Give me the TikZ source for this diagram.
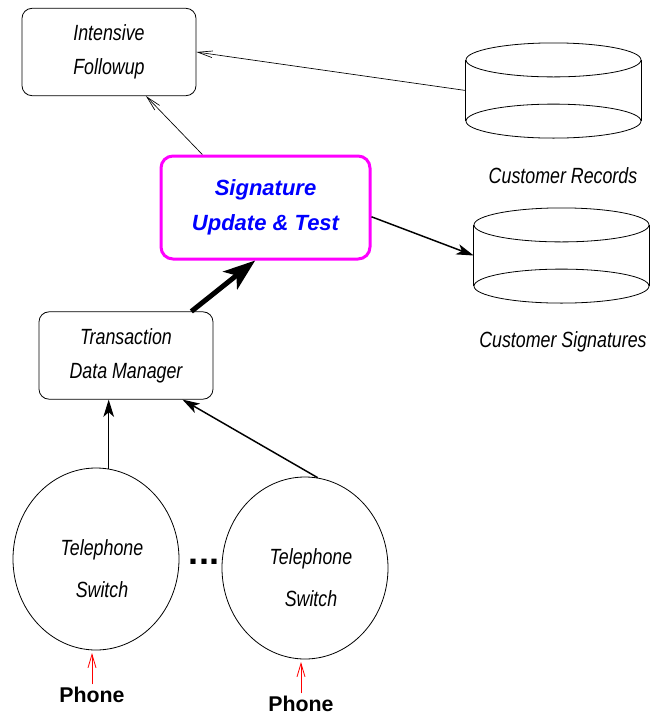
\documentclass[tikz,border=0pt]{standalone}
\usepackage{fontspec}
\setmainfont{Liberation Sans}
\newfontfamily\narrowsf[FakeStretch=0.81]{Liberation Sans}
\usetikzlibrary{arrows.meta,calc,positioning,shapes.geometric}
\definecolor{sigpink}{RGB}{255,0,255}
\definecolor{sigblue}{RGB}{0,0,255}

\begin{document}
\begin{tikzpicture}[x=0.75pt,y=-0.75pt,
  procbox/.style={draw, rounded corners=7.5pt, line width=0.6pt, minimum width=130.5pt, minimum height=65.5pt, align=center, inner sep=0pt, font=\narrowsf\itshape\fontsize{16.5}{25.5}\selectfont},
  sigbox/.style={draw=sigpink, line width=2.25pt, rounded corners=9pt, minimum width=156.75pt, minimum height=77.25pt, align=center, inner sep=0pt, text=sigblue, font=\bfseries\itshape\fontsize{16.5}{26}\selectfont},
  switch/.style={draw, ellipse, line width=0.6pt, minimum width=124.5pt, minimum height=136.5pt, inner sep=0pt},
  swtext/.style={align=center, inner sep=0pt, font=\narrowsf\itshape\fontsize{16.5}{31.5}\selectfont},
  store/.style={minimum width=131.25pt, minimum height=71pt, inner sep=0pt},
  storelbl/.style={anchor=base, inner sep=0pt, font=\narrowsf\itshape\fontsize{16.5}{18}\selectfont},
  phone/.style={anchor=base, inner sep=1.5pt, font=\bfseries\fontsize{16}{18}\selectfont},
  thinarrow/.style={-{Straight Barb[length=11pt,width=5pt]}, line width=0.5pt},
  midarrow/.style={-{Stealth[length=13pt,width=8pt,inset=3.5pt]}, line width=1.1pt},
  fatarrow/.style={-{Stealth[length=24pt,width=17pt,inset=6pt]}, line width=3.75pt},
  redarrow/.style={-{Straight Barb[length=10pt,width=6pt]}, line width=0.6pt, red, shorten >=2pt}]
\useasboundingbox (0,0) rectangle (652,715);

\node[procbox] (intens) at (109,52) {Intensive\\Followup};
\node[sigbox] (sig) at (265.5,207.5) {Signature\\Update \& Test};
\node[procbox] (tdm) at (126,355.5) {Transaction\\Data Manager};

% data stores
\node[store] (recs) at (553.5,90.5) {};
\node[store] (sigs) at (561.5,255.5) {};
\foreach \db in {recs,sigs}{
  \draw[line width=0.6pt] (\db.north) ++(0,17) ellipse [x radius=87.5, y radius=17];
  \draw[line width=0.6pt] (\db.south) ++(0,-17) ellipse [x radius=87.5, y radius=17];
  \draw[line width=0.6pt] ($(\db.north west)+(0,17)$) -- ($(\db.south west)+(0,-17)$);
  \draw[line width=0.6pt] ($(\db.north east)+(0,17)$) -- ($(\db.south east)+(0,-17)$);
}
\node[storelbl] (recslbl) at (563,183) {Customer Records};
\node[storelbl] (sigslbl) at (563,347) {Customer Signatures};

% switches
\node[switch, label={[swtext,xshift=4.5pt,yshift=-7.5pt]center:Telephone\\Switch}] (sw1) at (96,559) {};
\node[switch, label={[swtext,xshift=4.5pt,yshift=-7.5pt]center:Telephone\\Switch}] (sw2) at (305,568) {};
\node[anchor=base, inner sep=0pt, font=\bfseries\fontsize{27}{30}\selectfont] (dots) at (204,564.5) {...};
\node[phone] (ph1) at (92,702) {Phone};
\node[phone] (ph2) at (301,711) {Phone};

\draw[thinarrow] (recs.west) to (intens.east);
\draw[thinarrow] (sig.140) to (intens.-50);
\draw[midarrow] (sig.-5) to (sigs.west);
\draw[fatarrow] (tdm.34) to (sig.259);
\draw[midarrow] (sw1.82) to (sw1.82 |- tdm.south);
\draw[midarrow] (sw2.82) to (tdm.-38);
\draw[redarrow] (ph1.north) to (ph1.north |- sw1.south);
\draw[redarrow] (ph2.north) to (ph2.north |- sw2.south);
\end{tikzpicture}
\end{document}
